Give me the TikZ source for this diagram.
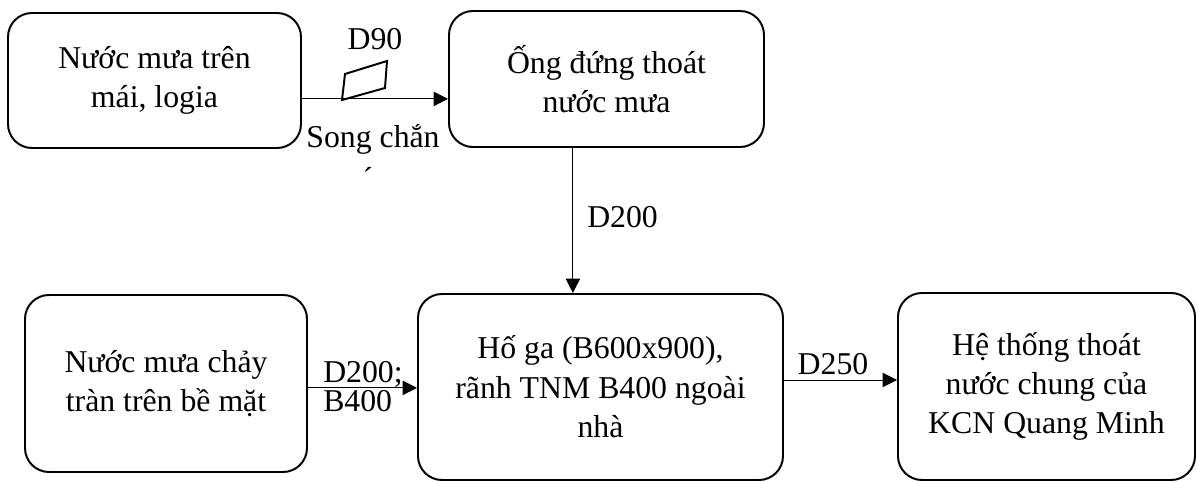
\documentclass[tikz,border=0pt]{standalone}
\usepackage{fontspec}
\setmainfont{Liberation Serif}
\usetikzlibrary{arrows.meta}
\tikzset{
  procbox/.style={draw, line width=1.4pt, rounded corners=0.6cm, align=center, inner sep=0pt,
    font=\fontsize{22.6}{28}\selectfont},
  flow/.style={line width=0.7pt, -{Triangle[length=0.36cm, width=0.36cm]}},
  lbl/.style={font=\fontsize{22.6}{28}\selectfont, inner sep=0pt, anchor=base}
}
\begin{document}
\begin{tikzpicture}
\useasboundingbox (0,0) rectangle (29.95,-12.05);
\node[procbox, minimum width=7.325cm, minimum height=3.375cm] (mai) at (3.8625,-2.0125) {Nước mưa trên\\mái, logia};
\node[procbox, minimum width=7.875cm, minimum height=3.4cm] (ongdung) at (15.1625,-1.975) {Ống đứng thoát\\nước mưa};
\node[procbox, minimum width=7.05cm, minimum height=4.425cm] (bemat) at (4.15,-9.5875) {Nước mưa chảy\\tràn trên bề mặt};
\node[procbox, minimum width=9.125cm, minimum height=4.65cm] (hoga) at (15.0125,-9.675) {Hố ga (B600x900),\\rãnh TNM B400 ngoài\\nhà};
\node[procbox, minimum width=7.425cm, minimum height=4.675cm] (chung) at (26.1625,-9.6625) {Hệ thống thoát\\nước chung của\\KCN Quang Minh};
\draw[flow] ([yshift=-0.46cm]mai.east) -- ([yshift=-0.46cm]mai.east -| ongdung.west);
\draw[line width=1.4pt, line join=miter] (8.55,-2.5) -- (8.625,-1.85) -- (9.675,-1.525) -- (9.625,-2.2) -- cycle;
\draw[flow] ([xshift=-0.84cm]ongdung.south) -- ([xshift=-0.84cm]ongdung.south |- hoga.north);
\draw[flow] ([yshift=-0.11cm]bemat.east) -- ([yshift=-0.11cm]bemat.east -| hoga.west);
\draw[flow] ([yshift=0.175cm]hoga.east) -- ([yshift=0.175cm]hoga.east -| chung.west);
\node[lbl] (d90) at (9.375,-1.25) {D90};
\node[lbl] (songchan) at (9.325,-3.7) {Song chắn};
\node[lbl] (dau) at (9.2,-4.75) {´};
\node[lbl, anchor=base west] (d200) at (14.675,-5.7) {D200};
\node[lbl, anchor=base west] (d200b) at (8.075,-9.575) {D200;};
\node[lbl, anchor=base west] (b400) at (8.075,-10.3) {B400};
\node[lbl] (d250) at (20.825,-9.375) {D250};
\end{tikzpicture}
\end{document}
